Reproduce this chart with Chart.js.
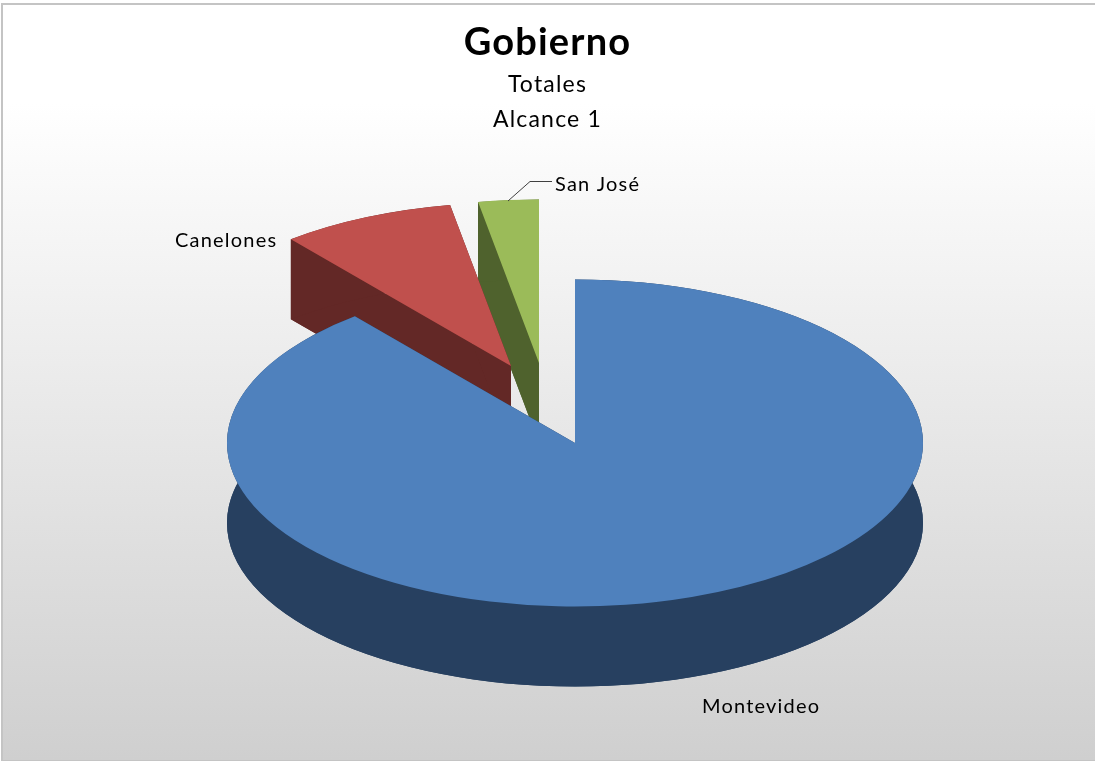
<!DOCTYPE html>
<html>
<head>
<meta charset="utf-8">
<title>Gobierno</title>
<script src="https://cdn.jsdelivr.net/npm/chart.js@4"></script>
<style>
    html, body { margin: 0; padding: 0; background: #fff; overflow: hidden; }
    #frame {
        position: absolute; left: 1px; top: 3px; width: 1100px; height: 755px;
        border: 2px solid #c4c4c4;
        border-bottom-width: 1px;
        background: linear-gradient(180deg, #ffffff 0%, #ffffff 13%, #cfcfcf 100%);
    }
    #chart1 { position: absolute; left: 0; top: 0; }
</style>
</head>
<body>
<div id="frame"></div>
<canvas id="chart1" width="1095" height="762"></canvas>
<script>
// Chart data
const categories = ['Montevideo', 'Canelones', 'San José'];
const shares = [89.1, 8.1, 2.8];
const topColors = ['#4f81bd', '#c0504d', '#9bbb59'];
const sideColors = ['#274060', '#632826', '#4f622d'];

// Tilted pie geometry
const pieCenter = { x: 575, y: 443 };
const pieRadius = 348;
const squash = 0.47;
const depth = 80;
const sliceShift = [[0, 0], [-64, -77], [-36, -80]];
const labelSpots = [[702, 713], [175, 247], [555, 191]];

// Wall under one slice: the rim, the two cut faces and the bottom
function drawWall(ctx, arc, i) {
    const x = pieCenter.x + sliceShift[i][0];
    const y = pieCenter.y + sliceShift[i][1];
    const rx = arc.outerRadius;
    const ry = arc.outerRadius * squash;
    ctx.fillStyle = sideColors[i];

    ctx.beginPath();
    ctx.ellipse(x, y, rx, ry, 0, arc.startAngle, arc.endAngle);
    ctx.ellipse(x, y + depth, rx, ry, 0, arc.endAngle, arc.startAngle, true);
    ctx.closePath();
    ctx.fill();

    [arc.startAngle, arc.endAngle].forEach(angle => {
        const ex = x + rx * Math.cos(angle);
        const ey = y + ry * Math.sin(angle);
        ctx.beginPath();
        ctx.moveTo(x, y);
        ctx.lineTo(ex, ey);
        ctx.lineTo(ex, ey + depth);
        ctx.lineTo(x, y + depth);
        ctx.closePath();
        ctx.fill();
    });

    ctx.beginPath();
    ctx.moveTo(x, y + depth);
    ctx.ellipse(x, y + depth, rx, ry, 0, arc.startAngle, arc.endAngle);
    ctx.closePath();
    ctx.fill();
}

// Draws the pie as a tilted disc with a wall below each slice
const tiltedPie = {
    id: 'tiltedPie',
    beforeDraw(chart) {
        // the reference text runs a little wide, title boxes pick this up too
        chart.ctx.letterSpacing = '1.2px';
    },
    beforeDatasetsDraw(chart) {
        const ctx = chart.ctx;
        const arcs = chart.getDatasetMeta(0).data;
        // back slices first, Montevideo ends up on top
        for (let i = arcs.length - 1; i >= 0; i--) {
            const arc = arcs[i];
            drawWall(ctx, arc, i);
            ctx.save();
            ctx.translate(pieCenter.x + sliceShift[i][0], pieCenter.y + sliceShift[i][1]);
            ctx.scale(1, squash);
            ctx.translate(-arc.x, -arc.y);
            arc.draw(ctx);
            ctx.restore();
        }
        return false;
    },
    afterDraw(chart) {
        const ctx = chart.ctx;
        ctx.save();
        // leader line for San José
        ctx.strokeStyle = '#404040';
        ctx.lineWidth = 1;
        ctx.beginPath();
        ctx.moveTo(508, 201);
        ctx.lineTo(530, 181.5);
        ctx.lineTo(552, 181.5);
        ctx.stroke();

        ctx.font = '20px Lato';
        ctx.letterSpacing = '1.2px';
        ctx.fillStyle = '#000';
        ctx.textAlign = 'left';
        ctx.textBaseline = 'alphabetic';
        categories.forEach((name, i) => {
            ctx.fillText(name, labelSpots[i][0], labelSpots[i][1]);
        });
        ctx.restore();
    }
};

new Chart(document.getElementById('chart1').getContext('2d'), {
    type: 'pie',
    data: {
        labels: categories,
        datasets: [{
            data: shares,
            backgroundColor: topColors,
            borderWidth: 0,
            radius: pieRadius
        }]
    },
    options: {
        responsive: false,
        animation: false,
        events: [],
        plugins: {
            legend: { display: false },
            tooltip: { enabled: false },
            title: {
                display: true,
                text: 'Gobierno',
                color: '#000',
                font: { family: 'Lato', size: 38, weight: 'bold' },
                padding: { top: 20, bottom: 2 }
            },
            subtitle: {
                display: true,
                text: ['Totales', 'Alcance 1'],
                color: '#000',
                font: { family: 'Lato', size: 23, weight: 'normal', lineHeight: 1.5 }
            }
        }
    },
    plugins: [tiltedPie]
});
</script>
</body>
</html>
